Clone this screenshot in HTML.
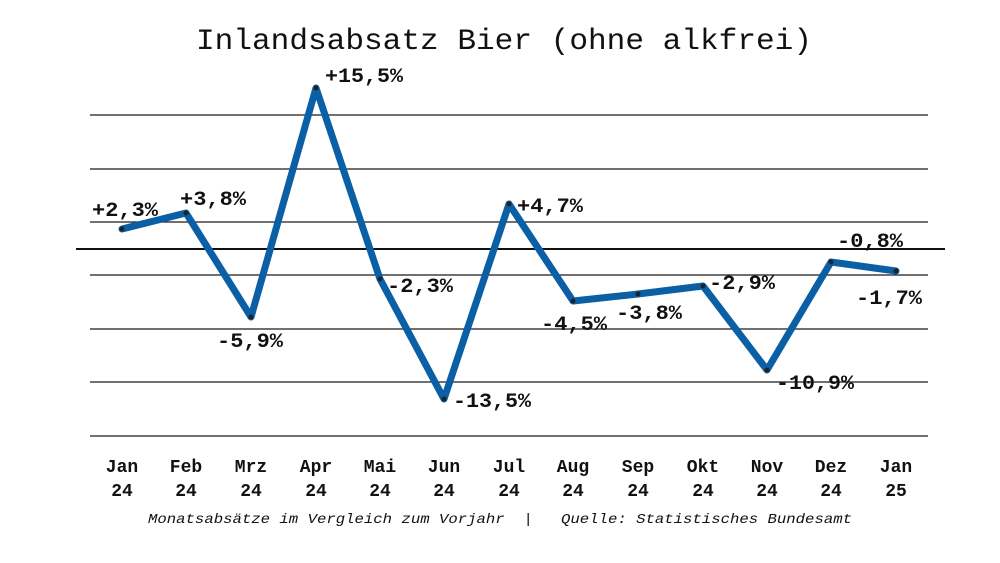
<!DOCTYPE html>
<html><head><meta charset="utf-8"><style>
html,body{margin:0;padding:0;background:#fff;}
svg{display:block;}
text{font-family:"Liberation Mono","DejaVu Sans Mono",monospace;fill:#111;}
</style></head><body>
<svg width="1000" height="563" viewBox="0 0 1000 563" xmlns="http://www.w3.org/2000/svg">
<rect width="1000" height="563" fill="#fff"/>
<text x="196" y="49" font-size="30" textLength="616" lengthAdjust="spacingAndGlyphs">Inlandsabsatz Bier (ohne alkfrei)</text>
<g stroke="#1a1a1a" stroke-width="1.2">
<line x1="90" y1="115" x2="928" y2="115"/>
<line x1="90" y1="169" x2="928" y2="169"/>
<line x1="90" y1="222" x2="928" y2="222"/>
<line x1="90" y1="275" x2="928" y2="275"/>
<line x1="90" y1="329" x2="928" y2="329"/>
<line x1="90" y1="382" x2="928" y2="382"/>
<line x1="90" y1="436" x2="928" y2="436"/>
</g>
<line x1="76" y1="249" x2="945" y2="249" stroke="#111" stroke-width="2"/>
<polyline fill="none" stroke="#0b5fa5" stroke-width="7" stroke-linejoin="round" stroke-linecap="round"
points="122,229 186,213 251,317 316,88 380,279 444,399 509,204 573,301 638,294 703,286 767,370 831,262 896,271"/>
<g fill="#222">
<circle cx="122" cy="229" r="2.5"/><circle cx="186" cy="213" r="2.5"/><circle cx="251" cy="317" r="2.5"/><circle cx="316" cy="88" r="2.5"/><circle cx="380" cy="279" r="2.5"/><circle cx="444" cy="399" r="2.5"/><circle cx="509" cy="204" r="2.5"/><circle cx="573" cy="301" r="2.5"/><circle cx="638" cy="294" r="2.5"/><circle cx="703" cy="286" r="2.5"/><circle cx="767" cy="370" r="2.5"/><circle cx="831" cy="262" r="2.5"/><circle cx="896" cy="271" r="2.5"/>
</g>
<g font-size="20" font-weight="bold">
<text x="92" y="216" textLength="66" lengthAdjust="spacingAndGlyphs">+2,3%</text>
<text x="180" y="205" textLength="66" lengthAdjust="spacingAndGlyphs">+3,8%</text>
<text x="217" y="347" textLength="66" lengthAdjust="spacingAndGlyphs">-5,9%</text>
<text x="325" y="82" textLength="78" lengthAdjust="spacingAndGlyphs">+15,5%</text>
<text x="387" y="292" textLength="66" lengthAdjust="spacingAndGlyphs">-2,3%</text>
<text x="453" y="407" textLength="78" lengthAdjust="spacingAndGlyphs">-13,5%</text>
<text x="517" y="212" textLength="66" lengthAdjust="spacingAndGlyphs">+4,7%</text>
<text x="541" y="330" textLength="66" lengthAdjust="spacingAndGlyphs">-4,5%</text>
<text x="616" y="319" textLength="66" lengthAdjust="spacingAndGlyphs">-3,8%</text>
<text x="709" y="289" textLength="66" lengthAdjust="spacingAndGlyphs">-2,9%</text>
<text x="776" y="389" textLength="78" lengthAdjust="spacingAndGlyphs">-10,9%</text>
<text x="837" y="247" textLength="66" lengthAdjust="spacingAndGlyphs">-0,8%</text>
<text x="856" y="304" textLength="66" lengthAdjust="spacingAndGlyphs">-1,7%</text>
</g>
<g font-size="18" text-anchor="middle" font-weight="bold" style="stroke:#fff;stroke-width:0.5px;paint-order:stroke">
<text x="122" y="472">Jan</text><text x="122" y="496">24</text>
<text x="186" y="472">Feb</text><text x="186" y="496">24</text>
<text x="251" y="472">Mrz</text><text x="251" y="496">24</text>
<text x="316" y="472">Apr</text><text x="316" y="496">24</text>
<text x="380" y="472">Mai</text><text x="380" y="496">24</text>
<text x="444" y="472">Jun</text><text x="444" y="496">24</text>
<text x="509" y="472">Jul</text><text x="509" y="496">24</text>
<text x="573" y="472">Aug</text><text x="573" y="496">24</text>
<text x="638" y="472">Sep</text><text x="638" y="496">24</text>
<text x="703" y="472">Okt</text><text x="703" y="496">24</text>
<text x="767" y="472">Nov</text><text x="767" y="496">24</text>
<text x="831" y="472">Dez</text><text x="831" y="496">24</text>
<text x="896" y="472">Jan</text><text x="896" y="496">25</text>
</g>
<text x="148" y="523" font-size="14" font-style="italic" textLength="704" lengthAdjust="spacingAndGlyphs" xml:space="preserve">Monatsabsätze im Vergleich zum Vorjahr  |   Quelle: Statistisches Bundesamt</text>
</svg>
</body></html>
